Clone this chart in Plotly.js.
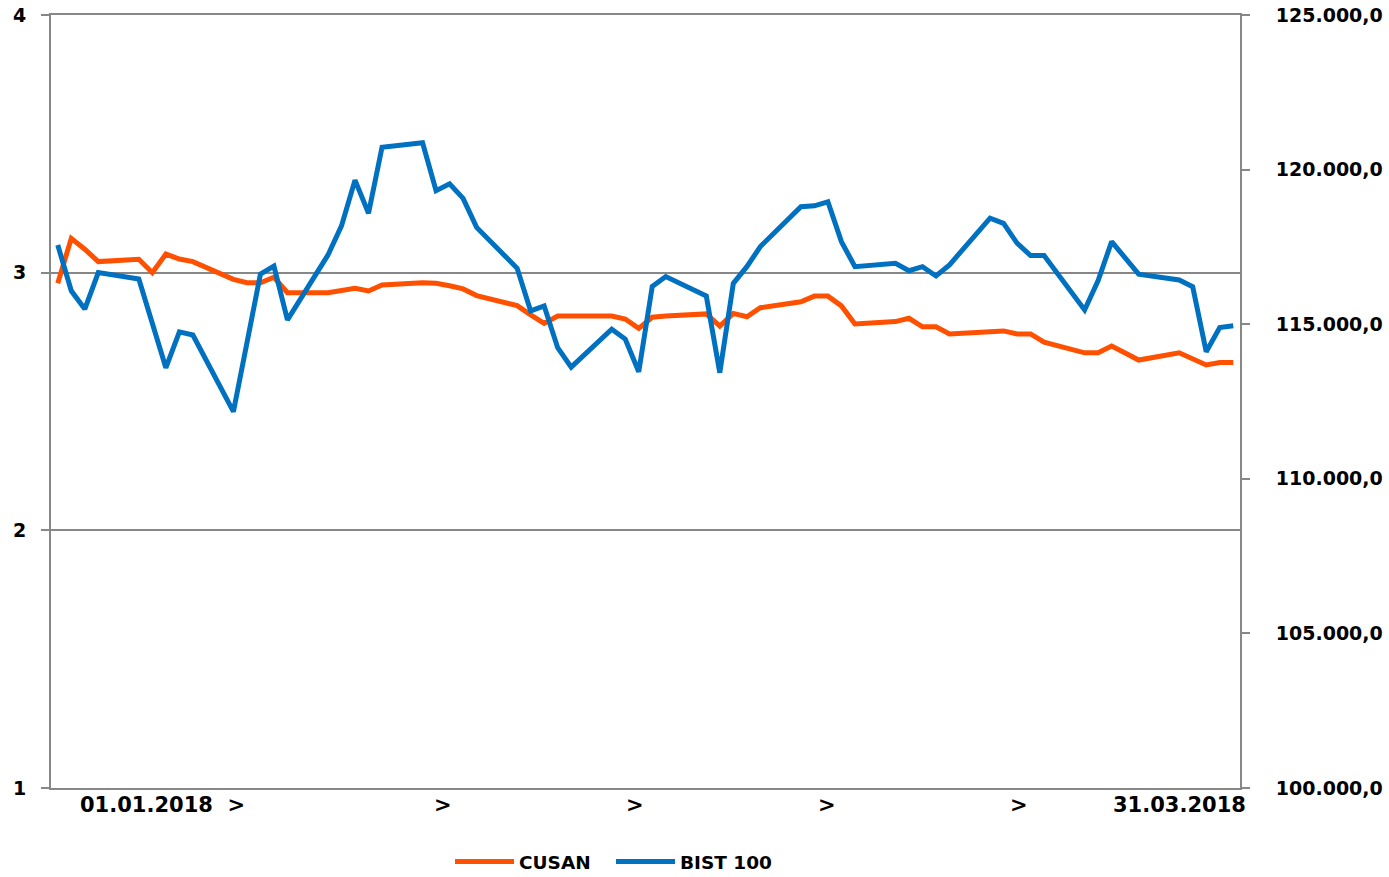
<!DOCTYPE html>
<html>
<head>
<meta charset="utf-8">
<script src="https://cdn.plot.ly/plotly-3.0.1.min.js"></script>
<style>html,body{margin:0;padding:0;background:#fff;}#chart{width:1389px;height:877px;}</style>
</head>
<body>
<div id="chart"></div>
<script>
const dates = [
  '2018-01-02','2018-01-03','2018-01-04','2018-01-05',
  '2018-01-08','2018-01-09','2018-01-10','2018-01-11','2018-01-12',
  '2018-01-15','2018-01-16','2018-01-17','2018-01-18','2018-01-19',
  '2018-01-22','2018-01-23','2018-01-24','2018-01-25','2018-01-26',
  '2018-01-29','2018-01-30','2018-01-31','2018-02-01','2018-02-02',
  '2018-02-05','2018-02-06','2018-02-07','2018-02-08','2018-02-09',
  '2018-02-12','2018-02-13','2018-02-14','2018-02-15','2018-02-16',
  '2018-02-19','2018-02-20','2018-02-21','2018-02-22','2018-02-23',
  '2018-02-26','2018-02-27','2018-02-28','2018-03-01','2018-03-02',
  '2018-03-05','2018-03-06','2018-03-07','2018-03-08','2018-03-09',
  '2018-03-12','2018-03-13','2018-03-14','2018-03-15','2018-03-16',
  '2018-03-19','2018-03-20','2018-03-21','2018-03-22','2018-03-23',
  '2018-03-26','2018-03-27','2018-03-28','2018-03-29','2018-03-30'
];
const cusan = [
  2.959, 3.133, 3.091, 3.043,
  3.052, 3.000, 3.072, 3.053, 3.043,
  2.974, 2.961, 2.961, 2.982, 2.922,
  2.922, 2.931, 2.939, 2.929, 2.952,
  2.961, 2.959, 2.949, 2.937, 2.911,
  2.872, 2.836, 2.803, 2.832, 2.832,
  2.832, 2.820, 2.784, 2.827, 2.832,
  2.840, 2.793, 2.842, 2.829, 2.864,
  2.887, 2.909, 2.909, 2.871, 2.801,
  2.810, 2.823, 2.790, 2.790, 2.762,
  2.774, 2.774, 2.762, 2.762, 2.730,
  2.689, 2.689, 2.715, 2.688, 2.661,
  2.689, 2.668, 2.642, 2.651, 2.651
];
const bist100 = [
  117560, 116080, 115490, 116670,
  116460, 115040, 113590, 114750, 114650,
  112170, 114390, 116620, 116880, 115140,
  117240, 118180, 119660, 118590, 120720,
  120870, 119320, 119540, 119070, 118130,
  116810, 115430, 115590, 114240, 113610,
  114840, 114520, 113460, 116220, 116540,
  115910, 113430, 116320, 116860, 117510,
  118800, 118830, 118960, 117670, 116860,
  116970, 116730, 116860, 116560, 116920,
  118430, 118260, 117620, 117220, 117220,
  115460, 116410, 117670, 117140, 116620,
  116430, 116210, 114110, 114890, 114950
];
const seriesNames = ['CUSAN', 'BIST 100'];
const xLabels = ['01.01.2018\u00a0\u00a0>', '>', '>', '>', '>', '31.03.2018'];
const leftTicks = [1, 2, 3, 4];
const rightTicks = [100000, 105000, 110000, 115000, 120000, 125000];

const W = 1389, H = 877;
const L = 51, R = 1240, T = 15, B = 788;
const pw = R - L, ph = B - T;
const px = v => (v - L) / pw;
const py = v => (B - v) / ph;

const fam = 'DejaVu Sans, sans-serif';
const tickFont = {family: fam, size: 19, color: '#000', weight: 'bold'};
const xLabFont = {family: fam, size: 21, color: '#000', weight: 'bold'};
const legFont = {family: fam, size: 18.5, color: '#000', weight: 'bold'};
const gridCol = '#878787';

const traces = [
  {x: dates, y: cusan, name: seriesNames[0], type: 'scatter', mode: 'lines',
   line: {color: '#FF5000', width: 5}, yaxis: 'y'},
  {x: dates, y: bist100, name: seriesNames[1], type: 'scatter', mode: 'lines',
   line: {color: '#0070C0', width: 5}, yaxis: 'y2'}
];

const labelPos = [{x: 78, a: 'left'}, {x: 443, a: 'center'}, {x: 635, a: 'center'},
                  {x: 827, a: 'center'}, {x: 1019, a: 'center'}, {x: 1248, a: 'right'}];
const annotations = xLabels.map((t, i) => ({
  text: t, xref: 'paper', yref: 'paper', x: px(labelPos[i].x), y: py(805),
  xanchor: labelPos[i].a, yanchor: 'middle', showarrow: false, font: xLabFont
}));

const layout = {
  width: W, height: H,
  margin: {l: L, r: W - R, t: T, b: H - B, pad: 0, autoexpand: false},
  paper_bgcolor: '#fff', plot_bgcolor: '#fff',
  separators: ',.',
  showlegend: true,
  legend: {orientation: 'h', xref: 'container', yref: 'container',
           x: 450 / W, xanchor: 'left', y: 1 - 862 / H, yanchor: 'middle',
           font: legFont, itemwidth: 59, entrywidth: 87, traceorder: 'normal',
           bgcolor: 'rgba(0,0,0,0)'},
  xaxis: {type: 'date', range: ['2018-01-01 12:00', '2018-03-30 12:00'],
          showgrid: false, showticklabels: false, ticks: '', zeroline: false,
          showline: true, linecolor: gridCol, linewidth: 2, mirror: true},
  yaxis: {range: [1, 4], tickvals: leftTicks, ticktext: leftTicks.map(String),
          showgrid: true, gridcolor: gridCol, gridwidth: 2, zeroline: false,
          showline: true, linecolor: gridCol, linewidth: 2,
          ticks: 'outside', ticklen: 8, tickwidth: 2, tickcolor: gridCol,
          ticklabelstandoff: 11, tickfont: tickFont},
  yaxis2: {range: [100000, 125000], overlaying: 'y', side: 'right', tickvals: rightTicks,
           tickformat: ',.1f', showgrid: false, zeroline: false,
           showline: true, linecolor: gridCol, linewidth: 2,
           ticks: 'outside', ticklen: 8, tickwidth: 2, tickcolor: gridCol,
           ticklabelstandoff: 22, tickfont: tickFont},
  annotations: annotations
};

Plotly.newPlot('chart', traces, layout, {displayModeBar: false, staticPlot: true});
</script>
</body>
</html>
